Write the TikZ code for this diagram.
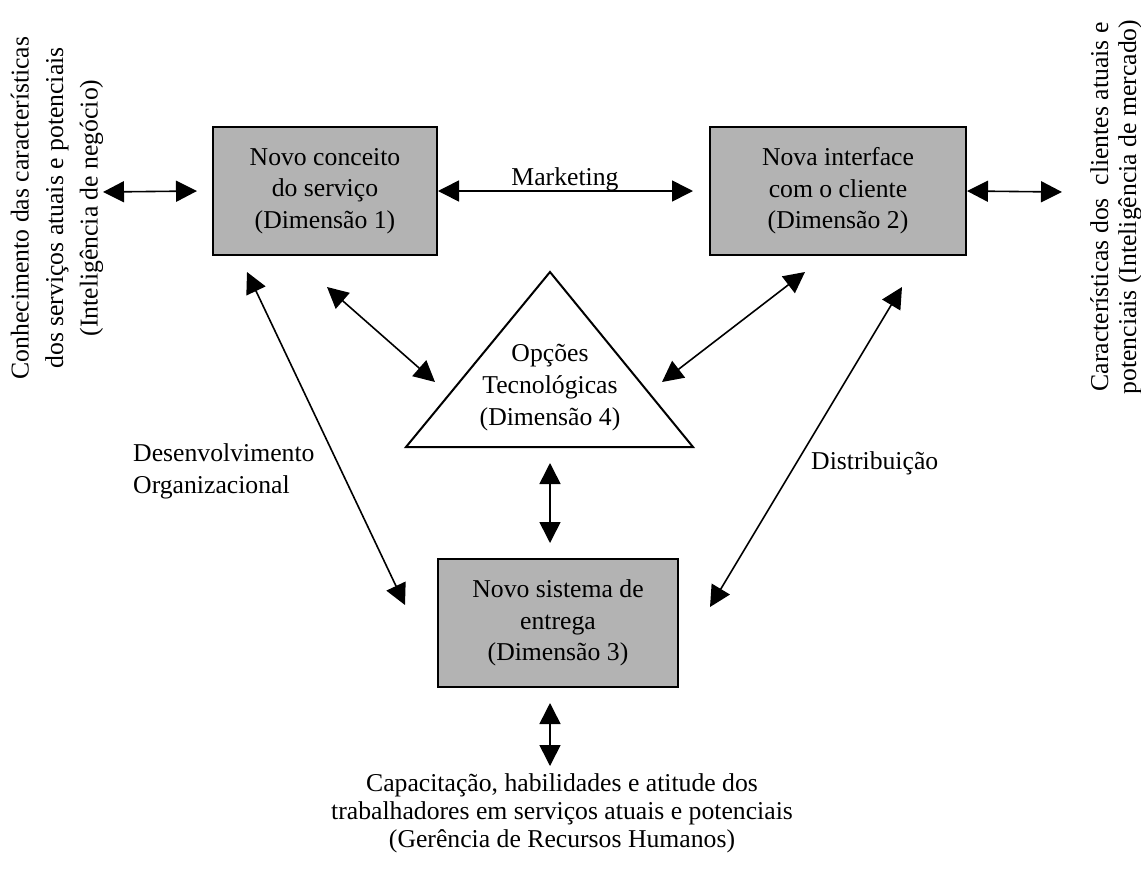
\documentclass[tikz,border=0pt]{standalone}
\usepackage{fontspec}
\setmainfont{Liberation Serif}
\usetikzlibrary{arrows.meta}
\definecolor{boxgray}{RGB}{179,179,179}
\begin{document}
\begin{tikzpicture}[x=1pt,y=-1pt,
  dimbox/.style={draw=black, line width=2pt, fill=boxgray, minimum height=128pt,
    align=center, font=\fontsize{25.7}{31.5}\selectfont, inner sep=0pt},
  dbl/.style={{Triangle[length=21pt,width=21pt]}-{Triangle[length=21pt,width=21pt]}, line width=1.6pt},
  lbl/.style={font=\fontsize{25.7}{32}\selectfont, inner sep=0pt}]
\useasboundingbox[fill=white] (0,0) rectangle (1141,871);

% boxes
\node[dimbox, minimum width=224pt] (b1) at (325,191) {Novo conceito\\do serviço\\(Dimensão 1)};
\node[dimbox, minimum width=256pt] (b2) at (838,191) {Nova interface\\com o cliente\\(Dimensão 2)};
\node[dimbox, minimum width=240pt] (b3) at (558,623) {Novo sistema de\\entrega\\(Dimensão 3)};

% triangle
\coordinate (tA) at (550,272);
\coordinate (tR) at (693,447);
\coordinate (tL) at (406,447);
\draw[line width=2pt, line join=miter] (tA) -- (tR) -- (tL) -- cycle;
\node[lbl, align=center, font=\fontsize{25.7}{32}\selectfont] (t) at (550,388) {Opções\\Tecnológicas\\(Dimensão 4)};

% outer texts
\node[lbl, align=center, rotate=90, font=\fontsize{25.7}{34.5}\selectfont] (lk) at (57,208)
  {Conhecimento das características\\dos serviços atuais e potenciais\\(Inteligência de negócio)};
\node[lbl, align=center, rotate=90, font=\fontsize{25.7}{28}\selectfont] (rk) at (1116,207)
  {Características dos \ clientes atuais e\\potenciais (Inteligência de mercado)};
\node[lbl, align=center, font=\fontsize{25.7}{28}\selectfont] (bk) at (562,813)
  {Capacitação, habilidades e atitude dos\\trabalhadores em serviços atuais e potenciais\\(Gerência de Recursos Humanos)};

% labels
\node[lbl, anchor=base] (mk) at (565,185) {Marketing};
\node[lbl, anchor=west, align=left] (dv) at (133,471) {Desenvolvimento\\Organizacional};
\node[lbl, anchor=west] (ds) at (811,463) {Distribuição};

% connector ends
\coordinate (lkE) at (103,192);
\coordinate (rkE) at (1062,192);
\coordinate (b1t) at (327,287);
\coordinate (t1)  at (435,382);
\coordinate (b2t) at (805,272);
\coordinate (t2)  at (662,382);
\coordinate (b1d) at (247,272);
\coordinate (b3d) at (405,605);
\coordinate (b2d) at (902,287);
\coordinate (b3r) at (710,607);
\coordinate (tB)  at (550,463);
\coordinate (b3u) at (550,543);
\coordinate (b3b) at (550,703);
\coordinate (bkT) at (550,766);

% connectors
\draw[dbl] (lkE) -- ([xshift=-15pt]b1.west);
\draw[dbl] (b1.east) -- ([xshift=-16pt]b2.west);
\draw[dbl] (b2.east) -- (rkE);
\draw[dbl] (b1t) -- (t1);
\draw[dbl] (b2t) -- (t2);
\draw[dbl] (b1d) -- (b3d);
\draw[dbl] (b2d) -- (b3r);
\draw[dbl] (tB) -- (b3u);
\draw[dbl] (b3b) -- (bkT);
\end{tikzpicture}
\end{document}
